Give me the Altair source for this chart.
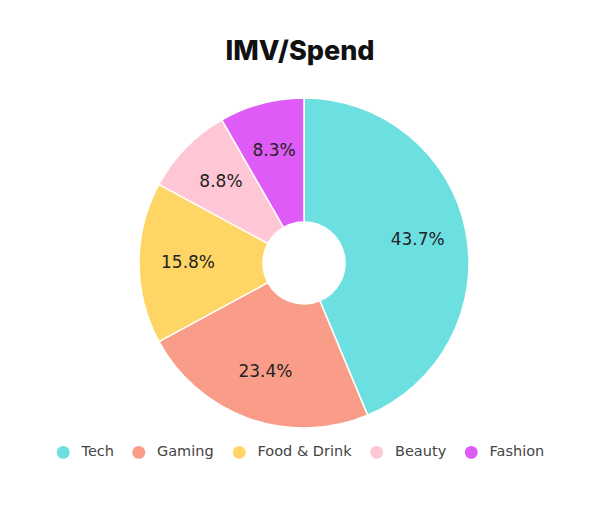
import altair as alt
import pandas as pd

# Share of IMV per spend category
categories = ["Tech", "Gaming", "Food & Drink", "Beauty", "Fashion"]
shares = [43.7, 23.4, 15.8, 8.8, 8.3]
colors = ["#6CE0E0", "#F99D88", "#FFD666", "#FFC6D5", "#DE5CF5"]

df = pd.DataFrame({
    "category": categories,
    "share": shares,
    "order": list(range(len(categories))),
})
df["label"] = df["share"].map(lambda v: f"{v:.1f}%")

TOP = 70
CX, CY = 304, 263 - TOP
R_OUT, R_IN, R_LABEL = 165, 41, 116

base = alt.Chart(df).encode(
    theta=alt.Theta("share:Q", stack=True),
    order=alt.Order("order:Q"),
)

arcs = base.mark_arc(
    outerRadius=R_OUT, innerRadius=R_IN, stroke="white", strokeWidth=1.5
).encode(
    x=alt.value(CX),
    y=alt.value(CY),
    color=alt.Color(
        "category:N",
        sort=categories,
        scale=alt.Scale(domain=categories, range=colors),
        legend=alt.Legend(
            title=None,
            orient="none",
            direction="horizontal",
            legendX=56,
            legendY=453 - TOP - 8,
            symbolType="circle",
            symbolSize=165,
            symbolStrokeWidth=0,
            labelFont="DejaVu Sans",
            labelFontSize=14.5,
            labelColor="#444444",
            labelOffset=11,
            columnPadding=17.5,
        ),
    ),
)

labels = base.mark_text(
    radius=R_LABEL, font="DejaVu Sans", fontSize=17, color="#222222"
).encode(
    x=alt.value(CX),
    y=alt.value(CY),
    text="label:N",
)

chart = (
    alt.layer(arcs, labels)
    .properties(
        width=600,
        height=507 - TOP,
        padding={"top": TOP, "left": 0, "right": 0, "bottom": 0},
        autosize=alt.AutoSizeParams(type="none"),
        title=alt.Title(
            "IMV/Spend",
            font="Inter",
            fontSize=27,
            fontWeight=800,
            color="#111111",
            anchor="middle",
            offset=4,
        ),
    )
    .configure(background="white")
    .configure_view(strokeOpacity=0, strokeWidth=0)
)

chart.save("out.html", embed_options={"renderer": "svg", "actions": False})
